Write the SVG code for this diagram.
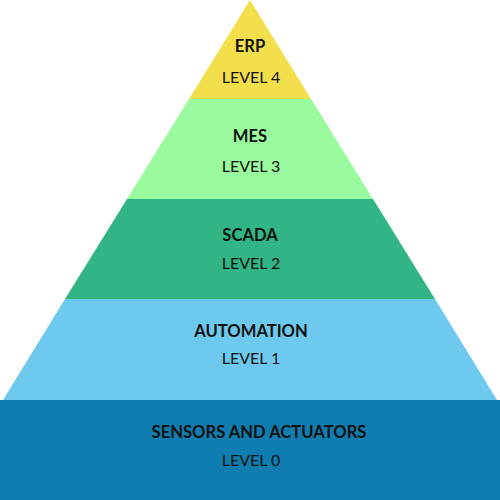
<svg xmlns="http://www.w3.org/2000/svg" width="500" height="500" viewBox="0 0 500 500">
<style>
text{font-family:Lato,"Open Sans","Liberation Sans",sans-serif;font-size:16px;fill:#111;text-anchor:middle}
.t{font-weight:bold;font-size:16.6px}
</style>
<rect width="500" height="500" fill="#ffffff"/>
<g id="erp">
<polygon points="250,0 311,99 189,99" fill="#F3DF4B"/>
<text class="t" x="250" y="52">ERP</text>
<text x="251" y="83">LEVEL 4</text>
</g>
<g id="mes">
<polygon points="189,99 311,99 373,199 127,199" fill="#99FB9D"/>
<text class="t" x="250" y="142">MES</text>
<text x="251" y="172">LEVEL 3</text>
</g>
<g id="scada">
<polygon points="127,199 373,199 435,299 65,299" fill="#31B585"/>
<text class="t" x="250" y="241">SCADA</text>
<text x="251" y="269">LEVEL 2</text>
</g>
<g id="automation">
<polygon points="65,299 435,299 497,400 3,400" fill="#6DC9EE"/>
<text class="t" x="251" y="337">AUTOMATION</text>
<text x="251" y="364">LEVEL 1</text>
</g>
<g id="sensors">
<rect x="0" y="400" width="500" height="100" fill="#0F7DAF"/>
<text class="t" x="259" y="438">SENSORS AND ACTUATORS</text>
<text x="251" y="466">LEVEL 0</text>
</g>
<g id="connectors"/>
</svg>
